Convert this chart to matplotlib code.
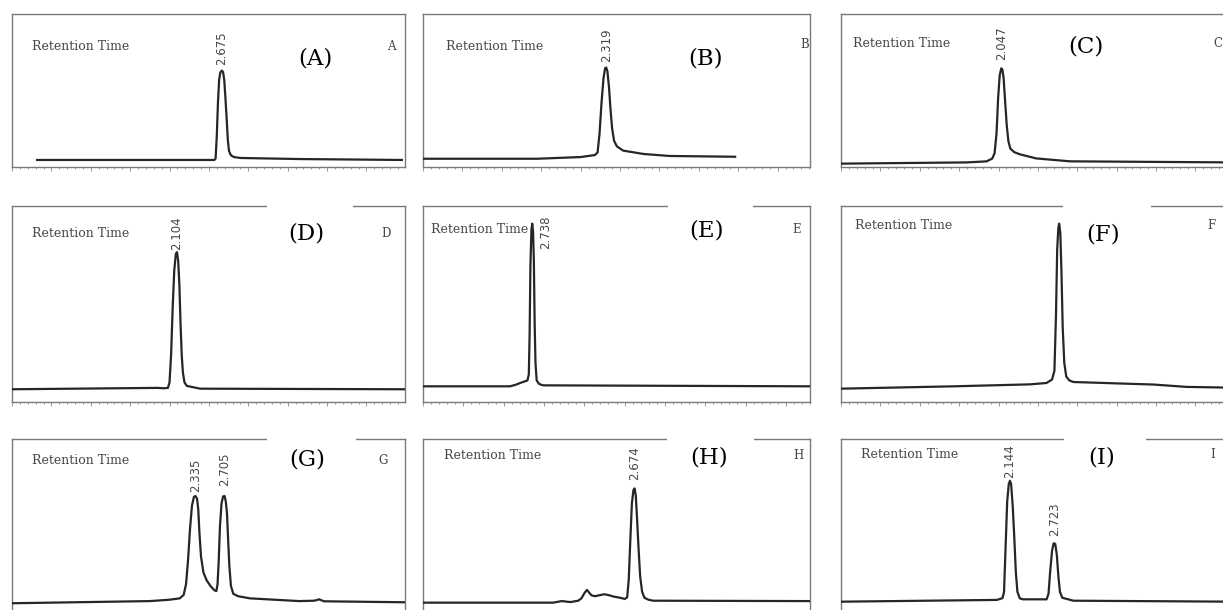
import matplotlib
matplotlib.use("Agg")
import matplotlib.pyplot as plt
from matplotlib.patches import Rectangle
from matplotlib.ticker import MultipleLocator

# ---- data: retention time (min) and detector signal (% of panel height) ----
a_time = [0.32, 1.50, 2.57, 2.585, 2.60, 2.615, 2.63, 2.645, 2.665, 2.68, 2.695, 2.71,
          2.725, 2.74, 2.755, 2.78, 2.82, 2.90, 3.65, 4.95]
a_signal = [4.6, 4.6, 4.6, 5.5, 20.0, 42.0, 57.0, 61.8, 63.0, 62.0, 57.0, 45.0,
            32.0, 18.0, 10.5, 7.6, 6.5, 5.9, 5.2, 4.6]

b_time = [0.0, 1.45, 2.00, 2.18, 2.215, 2.24, 2.265, 2.29, 2.31, 2.325, 2.34, 2.36,
          2.38, 2.40, 2.425, 2.46, 2.54, 2.80, 3.13, 3.96]
b_signal = [5.4, 5.4, 6.5, 7.8, 9.5, 22.0, 42.0, 58.0, 64.5, 65.0, 62.5, 52.0,
            37.0, 25.0, 17.0, 13.5, 10.7, 8.5, 7.2, 6.7]

c_time = [0.0, 1.60, 1.85, 1.92, 1.95, 1.975, 1.995, 2.015, 2.035, 2.05, 2.065, 2.085,
          2.105, 2.125, 2.15, 2.20, 2.27, 2.48, 2.91, 4.99]
c_signal = [2.2, 3.0, 3.7, 5.5, 9.0, 22.0, 45.0, 60.0, 64.5, 63.5, 58.0, 42.0,
            27.0, 17.0, 12.0, 9.7, 8.3, 5.6, 3.7, 3.0]

d_time = [0.0, 1.85, 1.93, 1.98, 2.00, 2.02, 2.04, 2.06, 2.08, 2.095, 2.11, 2.125,
          2.14, 2.155, 2.17, 2.19, 2.22, 2.39, 4.99]
d_signal = [6.5, 7.2, 7.0, 7.2, 10.0, 24.0, 48.0, 67.0, 75.5, 76.5, 72.0, 60.0,
            40.0, 24.0, 15.0, 10.0, 8.2, 6.8, 6.5]

e_time = [0.0, 2.16, 2.30, 2.41, 2.59, 2.625, 2.645, 2.665, 2.69, 2.71, 2.73, 2.75,
          2.77, 2.79, 2.82, 2.88, 2.98, 9.60]
e_signal = [8.0, 8.0, 8.8, 9.7, 11.0, 14.0, 35.0, 70.0, 88.0, 91.0, 87.0, 72.0,
            40.0, 20.0, 11.0, 9.2, 8.5, 8.0]

f_time = [0.0, 1.43, 2.40, 2.61, 2.68, 2.71, 2.73, 2.745, 2.76, 2.77, 2.785, 2.80,
          2.815, 2.835, 2.86, 2.90, 2.95, 3.97, 4.39, 4.99]
f_signal = [6.8, 8.0, 9.0, 9.7, 11.5, 16.0, 45.0, 78.0, 89.0, 91.0, 86.0, 65.0,
            38.0, 20.0, 13.0, 11.0, 10.2, 8.9, 7.7, 7.3]

g_time = [0.0, 1.75, 2.00, 2.13, 2.18, 2.21, 2.235, 2.26, 2.285, 2.31, 2.33, 2.35,
          2.365, 2.38, 2.40, 2.43, 2.47, 2.52, 2.57, 2.595, 2.61, 2.625, 2.64, 2.66,
          2.68, 2.70, 2.715, 2.73, 2.745, 2.76, 2.78, 2.81, 2.87, 3.02, 3.65, 3.84,
          3.90, 3.96, 4.99]
g_signal = [16.2, 17.3, 18.0, 18.7, 20.5, 26.0, 38.0, 54.0, 66.0, 70.5, 70.9, 69.5,
            64.0, 52.0, 40.0, 32.0, 28.0, 25.0, 22.8, 22.4, 26.0, 38.0, 55.0, 67.0,
            70.7, 70.9, 68.0, 62.0, 48.0, 35.0, 25.0, 21.0, 19.8, 18.7, 17.3, 17.5,
            18.2, 17.2, 16.7]

h_time = [0.0, 1.65, 1.76, 1.87, 1.97, 2.01, 2.05, 2.08, 2.11, 2.14, 2.18, 2.24,
          2.30, 2.36, 2.42, 2.50, 2.56, 2.59, 2.61, 2.63, 2.65, 2.67, 2.685, 2.70,
          2.715, 2.735, 2.755, 2.78, 2.81, 2.86, 2.92, 4.91]
h_signal = [16.5, 16.5, 17.3, 16.8, 17.5, 18.7, 21.5, 23.0, 21.5, 20.2, 19.8, 20.3,
            20.8, 20.3, 19.6, 19.0, 18.4, 19.2, 28.0, 48.0, 67.0, 74.0, 74.8, 71.0,
            60.0, 44.0, 30.0, 22.0, 19.0, 18.0, 17.5, 17.3]

i_time = [0.0, 1.98, 2.05, 2.07, 2.09, 2.11, 2.13, 2.145, 2.16, 2.18, 2.20, 2.22,
          2.24, 2.27, 2.31, 2.61, 2.635, 2.655, 2.68, 2.70, 2.72, 2.74, 2.76, 2.78,
          2.81, 2.95, 4.99]
i_signal = [17.0, 17.9, 18.8, 22.0, 45.0, 68.0, 77.0, 78.7, 77.0, 66.0, 50.0, 32.0,
            22.0, 18.7, 18.2, 18.2, 21.0, 32.0, 43.0, 46.8, 46.5, 41.0, 30.0, 22.0,
            19.0, 17.5, 17.0]

panel_letters = ["A", "B", "C", "D", "E", "F", "G", "H", "I"]
traces = [(a_time, a_signal), (b_time, b_signal), (c_time, c_signal),
          (d_time, d_signal), (e_time, e_signal), (f_time, f_signal),
          (g_time, g_signal), (h_time, h_signal), (i_time, i_signal)]
# labelled peaks: (label, time of apex, apex signal)
peak_labels = [
    [("2.675", 2.665, 63.0)],
    [("2.319", 2.325, 65.0)],
    [("2.047", 2.035, 64.5)],
    [("2.104", 2.095, 76.5)],
    [("2.738", 2.71, 91.0)],
    [],
    [("2.335", 2.33, 70.9), ("2.705", 2.70, 70.9)],
    [("2.674", 2.685, 74.8)],
    [("2.144", 2.145, 78.7), ("2.723", 2.71, 46.8)],
]

# ---- layout (pixels in the 1223x610 canvas) ----
W, H = 1223, 610
cols = [12, 423, 841]
widths = [393, 387, 393]
rows = [(14, 167), (206, 402), (439, 635)]
x_max = [4.99, 4.91, 4.99, 4.99, 9.60, 4.99, 4.99, 4.91, 4.99]
rt_pos = [(0.05, 0.79), (0.06, 0.79), (0.03, 0.81), (0.05, 0.86), (0.02, 0.88),
          (0.036, 0.90), (0.05, 0.888), (0.055, 0.918), (0.05, 0.923)]
tag_pos = [(0.772, 0.71), (0.729, 0.71), (0.623, 0.79), (0.75, 0.86), (0.733, 0.873),
           (0.667, 0.857), (0.75, 0.893), (0.739, 0.906), (0.663, 0.906)]
corner_pos = [(0.965, 0.79), (0.987, 0.80), (0.96, 0.81), (0.952, 0.86), (0.966, 0.88),
              (0.943, 0.90), (0.943, 0.888), (0.97, 0.918), (0.946, 0.923)]
gaps = [None, None, None, (0.649, 0.868), (0.633, 0.853), (0.565, 0.789),
        (0.649, 0.875), (0.63, 0.855), (0.567, 0.776)]
label_offsets = [[(0, 6)], [(0, 6)], [(0, 8)], [(0, 2)], [(13, -25)], [],
                 [(0, 4), (0, 10)], [(0, 8)], [(0, 3), (0, 7)]]

edge = "#7a7a7a"
ink = "#262626"
grey_text = "#474747"

fig = plt.figure(figsize=(W / 100, H / 100), dpi=100)

for k, letter in enumerate(panel_letters):
    r, c = divmod(k, 3)
    top, bottom = rows[r]
    ax = fig.add_axes([cols[c] / W, 1 - bottom / H, widths[c] / W, (bottom - top) / H])
    t, s = traces[k]
    ax.plot(t, s, color=ink, lw=1.6, solid_joinstyle="round", zorder=3)
    ax.set_xlim(0, x_max[k])
    ax.set_ylim(0, 100)

    for sp in ax.spines.values():
        sp.set_color(edge)
        sp.set_linewidth(1.0)
    major = 1.0 if x_max[k] > 6 else 0.5
    ax.xaxis.set_major_locator(MultipleLocator(major))
    ax.xaxis.set_minor_locator(MultipleLocator(major / 5))
    ax.tick_params(axis="x", which="both", direction="out", colors="#9a9a9a",
                   labelbottom=False, width=0.7)
    ax.tick_params(axis="x", which="major", length=3)
    ax.tick_params(axis="x", which="minor", length=1.5)
    ax.set_yticks([])

    if gaps[k]:
        g0, g1 = gaps[k]
        ax.add_patch(Rectangle((g0, 0.97), g1 - g0, 0.06, transform=ax.transAxes,
                               facecolor="white", edgecolor="none", clip_on=False, zorder=5))

    ax.text(rt_pos[k][0], rt_pos[k][1], "Retention Time", transform=ax.transAxes,
            ha="left", va="center", fontsize=9, family="DejaVu Serif", color=grey_text)
    ax.text(tag_pos[k][0], tag_pos[k][1], f"({letter})", transform=ax.transAxes,
            ha="center", va="center", fontsize=16.5, family="DejaVu Serif", color="black",
            zorder=6)
    ax.text(corner_pos[k][0], corner_pos[k][1], letter, transform=ax.transAxes,
            ha="center", va="center", fontsize=8.5, family="DejaVu Serif", color=grey_text)

    for (txt, pt, ps), (dx, dy) in zip(peak_labels[k], label_offsets[k]):
        ax.annotate(txt, xy=(pt, ps), xytext=(dx, dy), textcoords="offset pixels",
                    rotation=90, ha="center", va="bottom", fontsize=8.5,
                    family="DejaVu Sans", color=grey_text)

fig.savefig("out.png", dpi=100, facecolor="white")
